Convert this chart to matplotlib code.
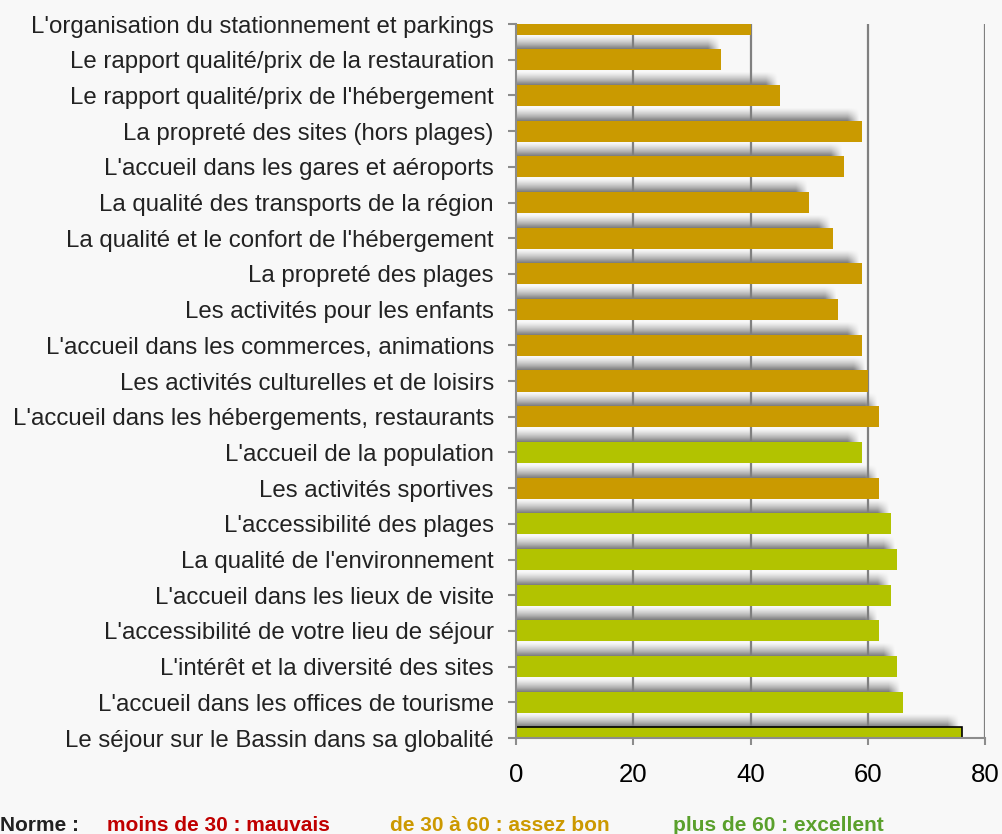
import numpy as np
import matplotlib
matplotlib.use('Agg')
import matplotlib.pyplot as plt

# Satisfaction scores, listed from top to bottom as in the chart
categories = [
    "L'organisation du stationnement et parkings",
    "Le rapport qualité/prix de la restauration",
    "Le rapport qualité/prix de l'hébergement",
    "La propreté des sites (hors plages)",
    "L'accueil dans les gares et aéroports",
    "La qualité des transports de la région",
    "La qualité et le confort de l'hébergement",
    "La propreté des plages",
    "Les activités pour les enfants",
    "L'accueil dans les commerces, animations",
    "Les activités culturelles et de loisirs",
    "L'accueil dans les hébergements, restaurants",
    "L'accueil de la population",
    "Les activités sportives",
    "L'accessibilité des plages",
    "La qualité de l'environnement",
    "L'accueil dans les lieux de visite",
    "L'accessibilité de votre lieu de séjour",
    "L'intérêt et la diversité des sites",
    "L'accueil dans les offices de tourisme",
    "Le séjour sur le Bassin dans sa globalité",
]
scores = [40, 35, 45, 59, 56, 50, 54, 59, 55, 59, 60, 62,
          59, 62, 64, 65, 64, 62, 65, 66, 76]
# g = gold ("assez bon" colour), v = green ("excellent" colour)
bar_colours = ['g'] * 12 + ['v', 'g'] + ['v'] * 7
x_ticks = [0, 20, 40, 60, 80]

gold = '#CA9A00'
green = '#B2C300'
bg = '#F8F8F8'
colour_map = {'g': gold, 'v': green}

fig = plt.figure(figsize=(10.03, 8.34), dpi=100, facecolor=bg)
ax = fig.add_axes([516 / 1003, 1 - 738 / 834, 469 / 1003, 714 / 834])
ax.set_facecolor(bg)

y = np.arange(len(categories))
h = 0.59

# soft drop shadow above each bar
sh_h = 0.38
for yi, v in zip(y, scores):
    ny, nx = 30, 200
    ty = np.linspace(0, 1, ny) ** 1.4
    xs = np.linspace(0, v, nx)
    fx = np.clip((v - 0.3 - xs) / 2.0, 0, 1)
    alpha = 0.5 * ty[:, None] * fx[None, :]
    img = np.zeros((ny, nx, 4))
    img[..., 3] = alpha
    ax.imshow(img, extent=(0, v, yi - h / 2, yi - h / 2 - sh_h),
              origin='upper', aspect='auto', zorder=1, interpolation='bilinear')

for xv in x_ticks[1:]:
    ax.axvline(xv, color='#808080', lw=1.6, zorder=1.5)

cols = [colour_map[c] for c in bar_colours]
bars = ax.barh(y, scores, height=h, color=cols, zorder=2)
bars[-1].set_edgecolor('black')
bars[-1].set_linewidth(1.2)

ax.set_xlim(0, 80)
ax.set_ylim(len(categories) - 1, 0)
ax.set_yticks(y)
ax.set_yticklabels(categories, fontsize=17.3, color='#222222',
                   family='Liberation Sans')
ax.set_xticks(x_ticks)
ax.set_xticklabels([str(t) for t in x_ticks], fontsize=18.5, color='black',
                   family='Liberation Sans')
ax.tick_params(axis='y', length=6, color='#8c8c8c', width=1.5, pad=10)
ax.tick_params(axis='x', length=5, color='#8c8c8c', width=1.5, pad=13)
for s in ['top', 'right']:
    ax.spines[s].set_visible(False)
for s in ['left', 'bottom']:
    ax.spines[s].set_color('#8c8c8c')
    ax.spines[s].set_linewidth(1.5)
    ax.spines[s].set_zorder(3)

# rating scale note at the bottom
yb = 1 - 831 / 834
kw = dict(fontsize=15, fontweight='bold', family='Liberation Sans', va='baseline')
fig.text(0 / 1003, yb, 'Norme :', color='#222222', **kw)
fig.text(107 / 1003, yb, 'moins de 30 : mauvais', color='#C00000', **kw)
fig.text(390 / 1003, yb, 'de 30 à 60 : assez bon', color='#CC9900', **kw)
fig.text(673 / 1003, yb, 'plus de 60 : excellent', color='#5AA02C', **kw)

fig.savefig('out.png', dpi=100, facecolor=bg)
